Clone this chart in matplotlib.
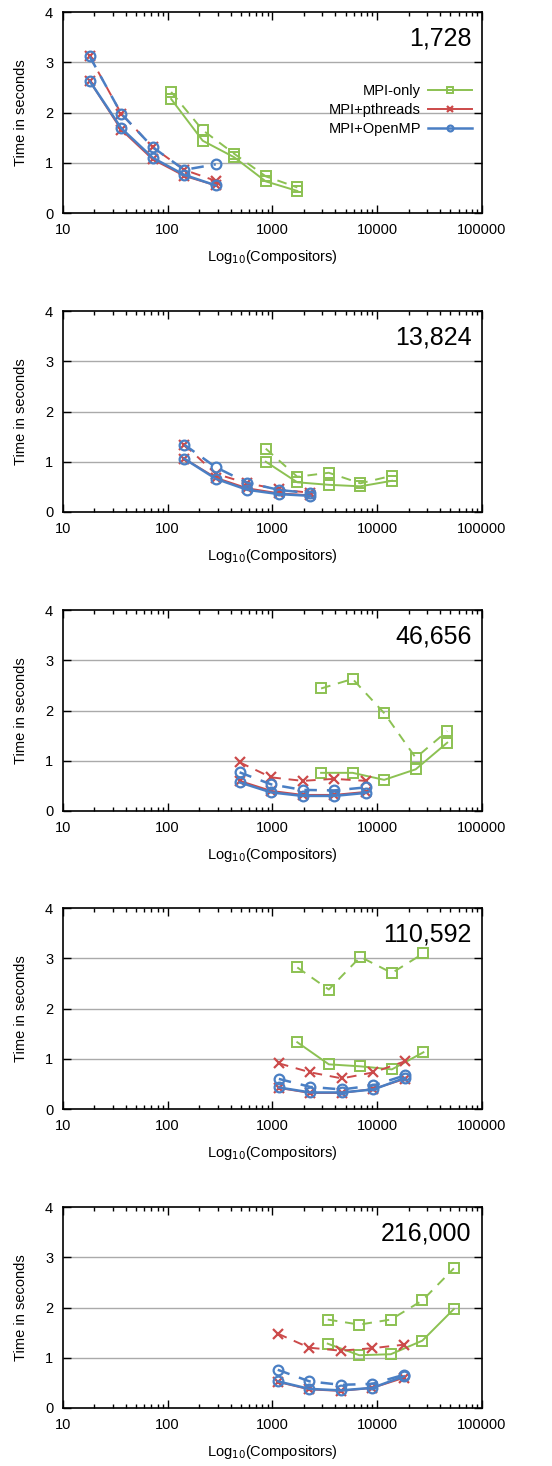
import matplotlib
matplotlib.use("Agg")
import matplotlib.pyplot as plt
from matplotlib.ticker import LogLocator, NullFormatter, FixedLocator

plt.rcParams['font.family'] = ['Liberation Sans', 'DejaVu Sans']

# dataset sizes (panel labels)
sizes = ["1,728", "13,824", "46,656", "110,592", "216,000"]

# compositor counts
hybrid_x = [
    [18, 36, 72, 144, 288],
    [144, 288, 576, 1152, 2304],
    [486, 972, 1944, 3888, 7776],
    [1152, 2304, 4608, 9216, 18432],
    [1125, 2250, 4500, 9000, 18000],
]
mpi_x = [
    [108, 216, 432, 864, 1728],
    [864, 1728, 3456, 6912, 13824],
    [2916, 5832, 11664, 23328, 46656],
    [1728, 3456, 6912, 13824, 27648],
    [3375, 6750, 13500, 27000, 54000],
]

# times, solid and dashed runs
mpi_solid = [
    [2.27, 1.44, 1.11, 0.63, 0.44],
    [1.00, 0.59, 0.54, 0.51, 0.62],
    [0.76, 0.76, 0.62, 0.83, 1.36],
    [1.33, 0.89, 0.85, 0.79, 1.13],
    [1.28, 1.05, 1.07, 1.34, 1.97],
]
mpi_dashed = [
    [2.41, 1.65, 1.18, 0.73, 0.51],
    [1.26, 0.70, 0.78, 0.57, 0.72],
    [2.44, 2.63, 1.95, 1.06, 1.59],
    [2.82, 2.38, 3.03, 2.71, 3.10],
    [1.76, 1.66, 1.76, 2.14, 2.78],
]
pth_solid = [
    [2.63, 1.66, 1.07, 0.74, 0.55],
    [1.06, 0.68, 0.47, 0.37, 0.33],
    [0.60, 0.40, 0.32, 0.32, 0.38],
    [0.42, 0.32, 0.32, 0.40, 0.60],
    [0.52, 0.37, 0.34, 0.40, 0.60],
]
pth_dashed = [
    [3.12, 1.98, 1.31, 0.86, 0.64],
    [1.34, 0.76, 0.57, 0.45, 0.38],
    [0.97, 0.67, 0.60, 0.64, 0.60],
    [0.91, 0.73, 0.61, 0.73, 0.95],
    [1.48, 1.20, 1.14, 1.19, 1.26],
]
omp_solid = [
    [2.63, 1.69, 1.10, 0.76, 0.55],
    [1.06, 0.66, 0.44, 0.355, 0.32],
    [0.57, 0.37, 0.30, 0.30, 0.36],
    [0.43, 0.33, 0.33, 0.39, 0.62],
    [0.53, 0.38, 0.35, 0.40, 0.63],
]
omp_dashed = [
    [3.12, 1.98, 1.31, 0.86, 0.97],
    [1.34, 0.89, 0.58, 0.44, 0.37],
    [0.77, 0.53, 0.42, 0.41, 0.47],
    [0.60, 0.44, 0.39, 0.47, 0.67],
    [0.76, 0.53, 0.46, 0.48, 0.66],
]

green = "#8cc152"
red = "#cc4a4a"
blue = "#4a7fc4"

fig = plt.figure(figsize=(5.52, 14.66), dpi=100)

bottoms = [0.8547, 0.6508, 0.4468, 0.2435, 0.0396]

for i in range(5):
    ax = fig.add_axes([0.114, bottoms[i], 0.759, 0.137])

    # MPI-only
    ax.plot(mpi_x[i], mpi_solid[i], '-', color=green, lw=1.4, marker='s',
            ms=7, mfc='none', mew=1.4, label="MPI-only")
    ax.plot(mpi_x[i], mpi_dashed[i], '--', color=green, lw=1.4, marker='s',
            ms=7, mfc='none', mew=1.4, dashes=(5, 4))
    # MPI+pthreads
    ax.plot(hybrid_x[i], pth_solid[i], '-', color=red, lw=1.4, marker='x',
            ms=7, mew=1.6, label="MPI+pthreads")
    ax.plot(hybrid_x[i], pth_dashed[i], '--', color=red, lw=1.4, marker='x',
            ms=7, mew=1.6, dashes=(5, 4))
    # MPI+OpenMP
    ax.plot(hybrid_x[i], omp_solid[i], '-', color=blue, lw=1.8, marker='o',
            ms=7, mfc='none', mew=1.6, label="MPI+OpenMP")
    ax.plot(hybrid_x[i], omp_dashed[i], '--', color=blue, lw=1.8, marker='o',
            ms=7, mfc='none', mew=1.6, dashes=(5, 4))

    ax.set_xscale('log')
    ax.set_xlim(10, 100000)
    ax.set_ylim(0, 4)
    ax.xaxis.set_major_locator(FixedLocator([10, 100, 1000, 10000, 100000]))
    ax.xaxis.set_minor_locator(LogLocator(base=10, subs=range(2, 10)))
    ax.xaxis.set_minor_formatter(NullFormatter())
    ax.set_xticklabels(["10", "100", "1000", "10000", "100000"])
    ax.set_yticks([0, 1, 2, 3, 4])

    ax.tick_params(which='both', direction='in', top=True, right=True,
                   labelsize=10.5, width=1.0)
    ax.tick_params(which='major', length=6, pad=7)
    ax.tick_params(which='minor', length=3)
    for sp in ax.spines.values():
        sp.set_linewidth(1.2)

    for g in [1, 2, 3]:
        ax.axhline(g, color='#aaaaaa', lw=1.0, zorder=0)

    ax.set_ylabel("Time in seconds", fontsize=10.5, labelpad=12)
    ax.set_xlabel("Log$_{10}$(Compositors)", fontsize=10.5, labelpad=8)

    ax.text(0.975, 0.93, sizes[i], transform=ax.transAxes, ha='right',
            va='top', fontsize=18)

    if i == 0:
        ax.legend(loc='upper right', bbox_to_anchor=(0.99, 0.67), frameon=False,
                  markerfirst=False, fontsize=10.5, handlelength=3.0,
                  markerscale=0.6, labelspacing=0.35, handletextpad=0.5,
                  borderaxespad=0.0)

fig.savefig("out.png", dpi=100)
